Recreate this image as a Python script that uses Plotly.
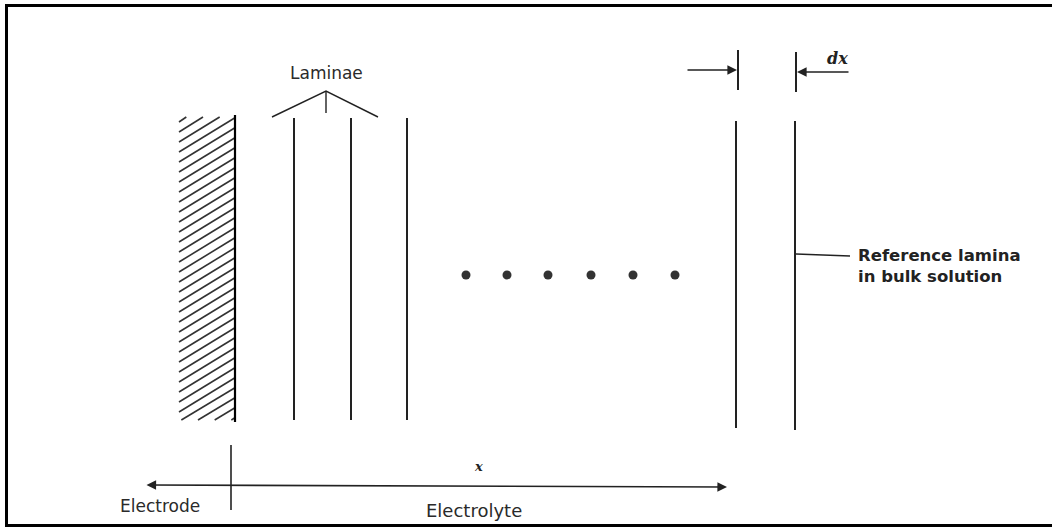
import plotly.graph_objects as go
import numpy as np

# ---- diagram data (pixel-like coordinates of the schematic) ----
lamina_x = [294, 351, 407, 736, 795]
lamina_top = [118, 118, 118, 121, 121]
lamina_bottom = [420, 420, 420, 428, 430]
dots_x = [466, 507, 548, 591, 633, 675]
dots_y = [275, 275, 275, 275, 275, 275]
electrode_box = [178, 235, 117, 420]   # x0, x1, y0, y1
hatch_step = 10
hatch_slope = 0.6

labels = ["Laminae", "dx", "Reference lamina<br>in bulk solution", "x", "Electrode", "Electrolyte"]

W, H = 1052, 527
fig = go.Figure()

# border (top, left, bottom; no right edge)
fig.add_trace(go.Scatter(x=[6.5, 6.5, 1060], y=[527, 5.5, 5.5],
                         mode="lines", line=dict(color="black", width=3), hoverinfo="skip"))
fig.add_trace(go.Scatter(x=[6.5, 1060], y=[525.5, 525.5],
                         mode="lines", line=dict(color="black", width=3), hoverinfo="skip"))

# hatch of electrode
x0, x1, y0, y1 = electrode_box
hx, hy = [], []
for c in np.arange(y0 - 5, y1 + hatch_slope * (x1 - x0) + 10, hatch_step):
    xa, xb = x0 + 1, x1
    ya, yb = c, c - hatch_slope * (xb - x0)
    if ya > y1:
        xa = x0 + (c - y1) / hatch_slope
        ya = y1
    if yb < y0:
        xb = x0 + (c - y0) / hatch_slope
        yb = y0
    if xa < xb and ya >= y0 and yb <= y1:
        hx += [xa, xb, None]
        hy += [ya, yb, None]
fig.add_trace(go.Scatter(x=hx, y=hy, mode="lines", line=dict(color="#333", width=1.6), hoverinfo="skip"))

# electrode wall
fig.add_trace(go.Scatter(x=[x1, x1], y=[y0 - 2, y1 + 2], mode="lines",
                         line=dict(color="black", width=2.2), hoverinfo="skip"))

# laminae
lx, ly = [], []
for xv, t, b in zip(lamina_x, lamina_top, lamina_bottom):
    lx += [xv, xv, None]
    ly += [t, b, None]
fig.add_trace(go.Scatter(x=lx, y=ly, mode="lines", line=dict(color="#222", width=2), hoverinfo="skip"))

# laminae bracket
fig.add_trace(go.Scatter(x=[272, 326, 378, None, 326, 326], y=[117, 91, 117, None, 91, 113],
                         mode="lines", line=dict(color="#222", width=1.4), hoverinfo="skip"))

# dx ticks
fig.add_trace(go.Scatter(x=[738, 738, None, 796, 796], y=[50, 90, None, 52, 92],
                         mode="lines", line=dict(color="#222", width=2), hoverinfo="skip"))

# reference leader
fig.add_trace(go.Scatter(x=[796, 850], y=[254, 256], mode="lines",
                         line=dict(color="#222", width=1.4), hoverinfo="skip"))

# electrode/electrolyte tick
fig.add_trace(go.Scatter(x=[231, 231], y=[445, 510], mode="lines",
                         line=dict(color="#222", width=1.6), hoverinfo="skip"))

# dots
fig.add_trace(go.Scatter(x=dots_x, y=dots_y, mode="markers",
                         marker=dict(color="#333", size=9), hoverinfo="skip"))

# arrows
arrow_kw = dict(xref="x", yref="y", axref="x", ayref="y", text="", showarrow=True,
                arrowcolor="#222", arrowhead=2, arrowsize=1.2, arrowwidth=1.6)
fig.add_annotation(x=737, y=70, ax=686, ay=70, **arrow_kw)
fig.add_annotation(x=797, y=72, ax=850, ay=72, **arrow_kw)
fig.add_annotation(x=727, y=487, ax=145, ay=485, arrowside="end+start", **arrow_kw)

font = dict(family="DejaVu Sans, sans-serif", size=17, color="#2a2a2a")
txt = [
    (326, 73, labels[0], "center", font),
    (837, 58, "<b><i>" + labels[1] + "</i></b>", "center", dict(family="DejaVu Serif, serif", size=16, color="#222")),
    (856, 266, "<b>" + labels[2].replace("<br>", "</b><br><b>") + "</b>", "left",
     dict(family="DejaVu Sans, sans-serif", size=16.5, color="#222")),
    (478, 466, "<b><i>" + labels[3] + "</i></b>", "center", dict(family="DejaVu Serif, serif", size=13, color="#222")),
    (160, 506, labels[4], "center", font),
    (474, 510, labels[5], "center", dict(family="DejaVu Sans, sans-serif", size=18, color="#2a2a2a")),
]
for xv, yv, t, al, f in txt:
    xanchor = "left" if al == "left" else "center"
    fig.add_annotation(x=xv, y=yv, text=t, showarrow=False, xref="x", yref="y",
                       xanchor=xanchor, yanchor="middle", align=al, font=f)

fig.update_layout(
    width=W, height=H, autosize=False,
    margin=dict(l=0, r=0, t=0, b=0),
    paper_bgcolor="white", plot_bgcolor="white",
    showlegend=False,
    xaxis=dict(range=[0, W], visible=False, fixedrange=True),
    yaxis=dict(range=[H, 0], visible=False, fixedrange=True),
)
fig.write_html("out.html", config={"displayModeBar": False, "staticPlot": True},
               post_script="document.body.style.margin='0px';document.body.style.overflow='hidden';")
